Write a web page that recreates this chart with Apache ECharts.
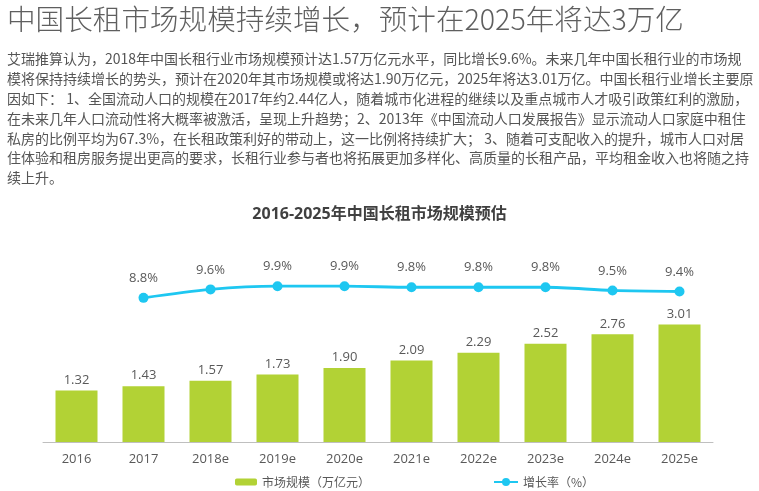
<!DOCTYPE html>
<html>
<head>
<meta charset="utf-8">
<script src="https://cdn.jsdelivr.net/npm/echarts@6/dist/echarts.min.js"></script>
<style>
html,body{margin:0;padding:0;background:#fff;}
#main{width:759px;height:491px;}
</style>
</head>
<body>
<div id="main"></div>
<script>
var pageTitle = '中国长租市场规模持续增长，预计在2025年将达3万亿';
var paragraphLines = [
  '艾瑞推算认为，2018年中国长租行业市场规模预计达1.57万亿元水平，同比增长9.6%。未来几年中国长租行业的市场规',
  '模将保持持续增长的势头，预计在2020年其市场规模或将达1.90万亿元，2025年将达3.01万亿。中国长租行业增长主要原',
  '因如下： 1、全国流动人口的规模在2017年约2.44亿人，随着城市化进程的继续以及重点城市人才吸引政策红利的激励，',
  '在未来几年人口流动性将大概率被激活，呈现上升趋势；2、2013年《中国流动人口发展报告》显示流动人口家庭中租住',
  '私房的比例平均为67.3%，在长租政策利好的带动上，这一比例将持续扩大； 3、随着可支配收入的提升，城市人口对居',
  '住体验和租房服务提出更高的要求，长租行业参与者也将拓展更加多样化、高质量的长租产品，平均租金收入也将随之持',
  '续上升。'
];
var chartTitle = '2016-2025年中国长租市场规模预估';
var categories = ['2016','2017','2018e','2019e','2020e','2021e','2022e','2023e','2024e','2025e'];
var marketSize = [1.32,1.43,1.57,1.73,1.90,2.09,2.29,2.52,2.76,3.01];
var growthRate = [null,8.8,9.6,9.9,9.9,9.8,9.8,9.8,9.5,9.4];
var barName = '市场规模（万亿元）';
var lineName = '增长率（%）';

var FONT = '"Open Sans","Noto Sans CJK SC",sans-serif';
var CJK = '"Noto Sans CJK SC","Open Sans",sans-serif';
var GRAY = '#595959';
var BAR = '#b2d235';
var LINE = '#1ec7f1';

var graphics = [{
  type: 'text', left: 7, top: 5,
  style: { text: pageTitle, fontSize: 28.6, fontWeight: 300, fontFamily: CJK, fill: '#5f5f5f' }
}];
paragraphLines.forEach(function (t, i) {
  graphics.push({
    type: 'text', left: 7, top: 52 + i * 19.8,
    style: { text: t, fontSize: 14, fontFamily: CJK, fill: '#555555' }
  });
});

var chart = echarts.init(document.getElementById('main'));
chart.setOption({
  animation: false,
  backgroundColor: '#fff',
  title: {
    text: chartTitle, left: 'center', top: 201,
    textStyle: { fontSize: 16, fontWeight: 'bold', color: '#404040', fontFamily: FONT }
  },
  graphic: graphics,
  legend: [{
    data: [barName], left: 230, top: 471, itemWidth: 22, itemHeight: 7, itemGap: 4,
    textStyle: { fontSize: 12, color: GRAY, fontFamily: CJK }
  }, {
    data: [lineName], left: 488, top: 471, itemWidth: 24, itemHeight: 10, itemGap: 4,
    textStyle: { fontSize: 12, color: GRAY, fontFamily: CJK }
  }],
  grid: { left: 43, right: 46, top: 247, bottom: 49 },
  xAxis: {
    type: 'category', data: categories,
    axisLine: { lineStyle: { color: '#bfbfbf', width: 1 } },
    axisTick: { show: false },
    axisLabel: { color: GRAY, fontSize: 13, fontFamily: FONT, margin: 11 }
  },
  yAxis: [{
    type: 'value', min: 0, max: 5, show: false, splitLine: { show: false }
  }, {
    type: 'value', min: -4.8, max: 13.6, show: false, splitLine: { show: false }
  }],
  series: [{
    name: barName, type: 'bar', data: marketSize, barWidth: 42,
    itemStyle: { color: BAR },
    label: {
      show: true, position: 'top', distance: 4, color: GRAY, fontSize: 13, fontFamily: FONT,
      formatter: function (p) { return p.value.toFixed(2); }
    }
  }, {
    name: lineName, type: 'line', yAxisIndex: 1, data: growthRate,
    smooth: 0.3, symbol: 'circle', symbolSize: 10,
    lineStyle: { color: LINE, width: 2.8 }, itemStyle: { color: LINE },
    label: {
      show: true, position: 'top', distance: 8, color: GRAY, fontSize: 13, fontFamily: FONT,
      formatter: function (p) { return p.value.toFixed(1) + '%'; }
    }
  }]
});
</script>
</body>
</html>
